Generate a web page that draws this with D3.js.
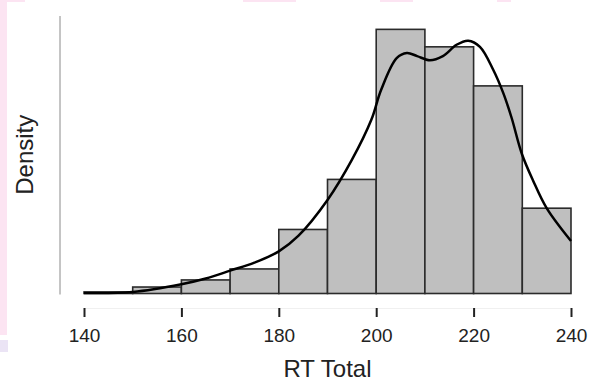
<!DOCTYPE html>
<html>
<head>
<meta charset="utf-8">
<script src="https://cdn.jsdelivr.net/npm/d3@7"></script>
<style>
  html, body { margin: 0; padding: 0; background: #ffffff; }
  svg { display: block; font-family: "Liberation Sans", Arial, sans-serif; }
</style>
</head>
<body>
<svg id="chart" width="589" height="383"></svg>
<script>
// Histogram bins (RT Total), density per bin
const binStarts = [140, 150, 160, 170, 180, 190, 200, 210, 220, 230];
const binWidth = 10;
const binDensity = [0.00015, 0.00063, 0.00132, 0.00239, 0.00623, 0.0111, 0.0257, 0.0240, 0.0202, 0.0083];

// Kernel density curve
const curveX = [140, 150, 160, 165, 170, 175, 180, 184, 190, 195, 199, 201, 204.2, 206.3, 208.4, 211, 213.7, 216.5, 218.9, 221.3, 224, 226.1, 227.8, 229.9, 232.2, 235, 240];
const curveY = [0.00005, 0.00015, 0.0009, 0.00146, 0.00222, 0.0030, 0.0041, 0.0056, 0.0091, 0.0130, 0.0169, 0.0198, 0.0229, 0.0234, 0.0231, 0.0227, 0.0231, 0.0242, 0.0246, 0.0240, 0.0218, 0.0195, 0.0171, 0.0136, 0.0110, 0.0083, 0.0051];

const xTicks = [140, 160, 180, 200, 220, 240];
const xTitle = "RT Total";
const yTitle = "Density";

const svg = d3.select("#chart");

// decorative edge tint from the source image
svg.append("rect").attr("x", 0).attr("y", 0).attr("width", 7).attr("height", 335).attr("fill", "#fce4f2");
svg.append("rect").attr("x", 0).attr("y", 340).attr("width", 8).attr("height", 12).attr("fill", "#ebe4f5");
[[0, 25], [243, 53], [380, 33], [497, 14]].forEach(([x0, w]) => {
  svg.append("rect").attr("x", x0).attr("y", 0).attr("width", w).attr("height", 2).attr("fill", "#fce4f2");
});

const x = d3.scaleLinear().domain([140, 240]).range([84, 571]);
const y = d3.scaleLinear().domain([0, 0.027]).range([293.5, 16]);

// y axis: plain line, no ticks
svg.append("line")
  .attr("x1", 60).attr("x2", 60)
  .attr("y1", y(0) + 1).attr("y2", y(0.027))
  .attr("stroke", "#8a8a8a").attr("stroke-width", 1);

// bars
svg.append("g").selectAll("rect")
  .data(binStarts.map((s, i) => ({ s, d: binDensity[i] })))
  .join("rect")
  .attr("x", d => x(d.s))
  .attr("y", d => y(d.d))
  .attr("width", d => x(d.s + binWidth) - x(d.s))
  .attr("height", d => y(0) - y(d.d))
  .attr("fill", "#bfbfbf")
  .attr("stroke", "#2b2b2b")
  .attr("stroke-width", 1.6);

// density line
const line = d3.line()
  .x((d, i) => x(curveX[i]))
  .y((d, i) => y(curveY[i]))
  .curve(d3.curveCatmullRom.alpha(0.5));
svg.append("path")
  .datum(curveX)
  .attr("d", line)
  .attr("fill", "none")
  .attr("stroke", "#000")
  .attr("stroke-width", 2.5);

// x axis
const xAxis = d3.axisBottom(x).tickValues(xTicks).tickSizeInner(9).tickSizeOuter(0).tickPadding(8);
const gx = svg.append("g").attr("transform", "translate(0,308)").call(xAxis);
gx.select(".domain").attr("stroke", "#f0f0f0").attr("stroke-width", 1);
gx.selectAll(".tick line").attr("stroke", "#222").attr("stroke-width", 2);
gx.selectAll(".tick text")
  .attr("fill", "#222")
  .attr("font-size", 19)
  .attr("font-family", "Liberation Sans, Arial, sans-serif")
  .attr("dy", null)
  .attr("y", 34);

// titles
svg.append("text")
  .attr("x", (x(140) + x(240)) / 2).attr("y", 377)
  .attr("text-anchor", "middle")
  .attr("font-size", 24).attr("fill", "#222")
  .text(xTitle);

svg.append("text")
  .attr("transform", `translate(33, ${(y(0) + y(0.027)) / 2}) rotate(-90)`)
  .attr("text-anchor", "middle")
  .attr("font-size", 24).attr("fill", "#222")
  .text(yTitle);
</script>
</body>
</html>
